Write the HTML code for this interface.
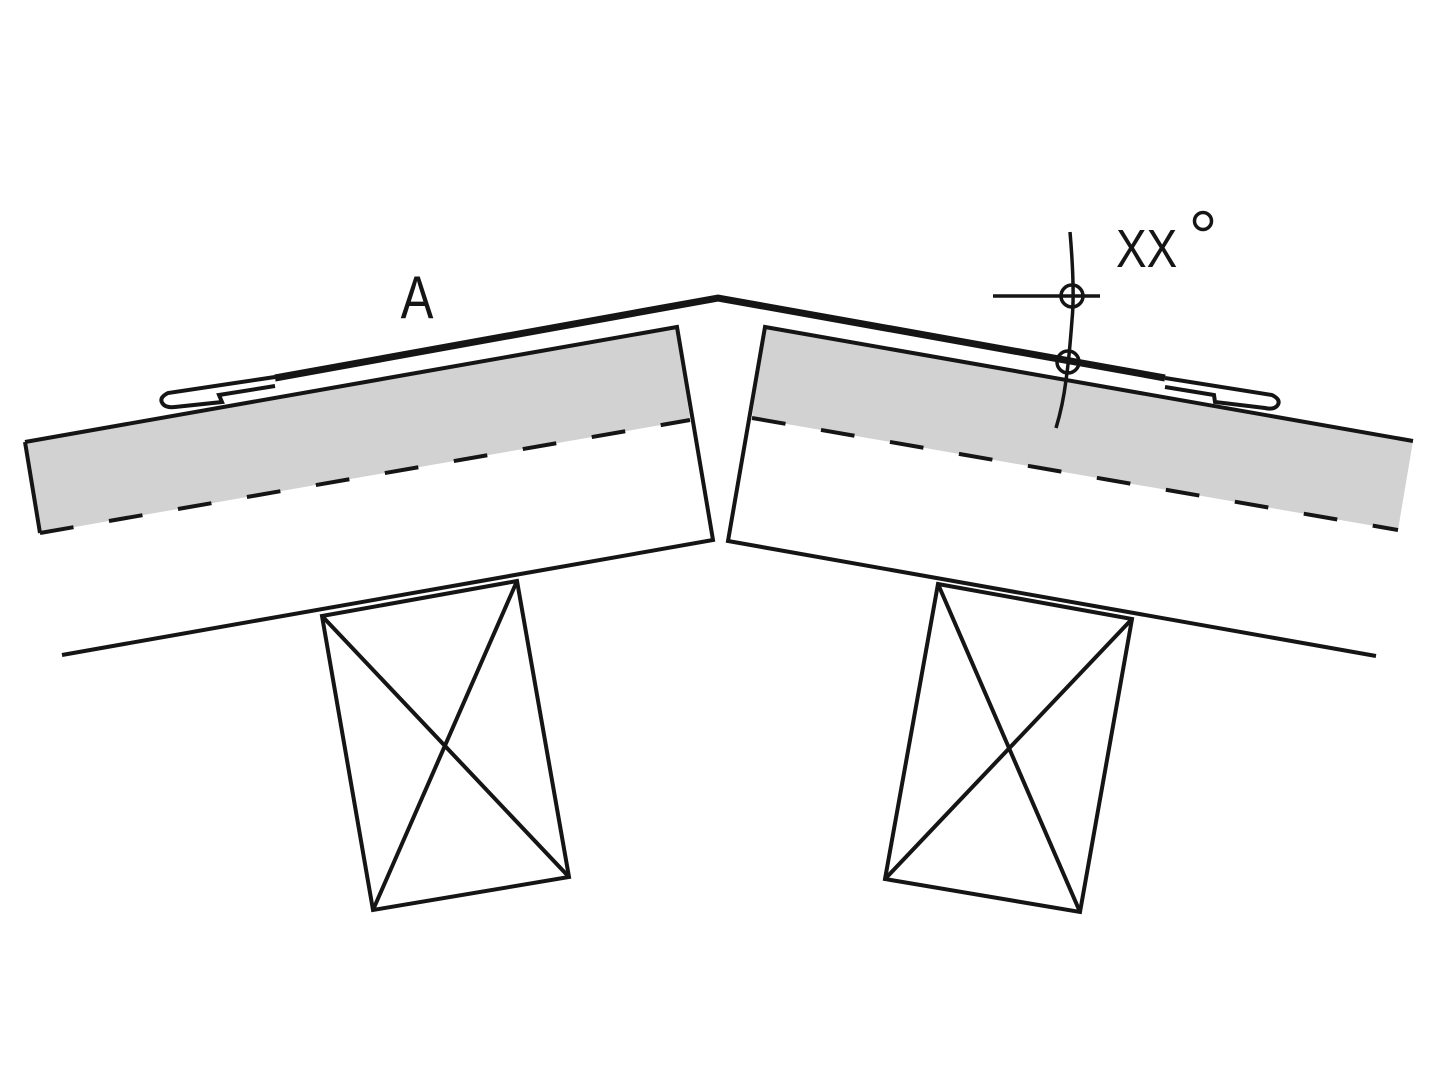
<!DOCTYPE html>
<html><head><meta charset="utf-8"><style>
html,body{margin:0;padding:0;background:#fff;}
svg{display:block;}
</style></head><body>
<svg width="1440" height="1080" viewBox="0 0 1440 1080" xmlns="http://www.w3.org/2000/svg">
<g stroke="#151515" fill="none" stroke-width="4" stroke-linejoin="miter">
<polygon points="25,442 677,327 690,420 40,533" fill="#d2d2d2" stroke="none"/>
<polyline points="25,442 677,327 713,540 62,655"/>
<line x1="25" y1="442" x2="40" y2="533"/>
<line x1="40" y1="533" x2="690" y2="420" stroke-dasharray="34,36"/>
<polygon points="765,327 1413,441 1398,530 752,418" fill="#d2d2d2" stroke="none"/>
<polyline points="1413,441 765,327 728,541 1376,656"/>
<line x1="752" y1="418" x2="1398" y2="530" stroke-dasharray="34,36"/>
<polyline points="275,378 718,298 1165,378" stroke-width="7"/>
<path d="M275,377 L168,393 Q158,398 163,404 Q166,408 175,407 L222,402 L219,395 L275,386" stroke-width="4"/>
<path d="M1165,378 L1272,395 Q1282,400 1277,406 Q1273,410 1265,408 L1215,402 L1214,395 L1165,387" stroke-width="4"/>
<polygon points="322,616 517,581 569,877 373,910"/>
<line x1="322" y1="616" x2="569" y2="877"/>
<line x1="517" y1="581" x2="373" y2="910"/>
<polygon points="938,584 1132,619 1080,912 885,879"/>
<line x1="938" y1="584" x2="1080" y2="912"/>
<line x1="1132" y1="619" x2="885" y2="879"/>
<path d="M1070,232 Q1075,290 1072,320 Q1069,360 1066,380 Q1063,405 1056,428" stroke-width="3.5"/>
<line x1="993" y1="296" x2="1100" y2="296" stroke-width="3.5"/>
<circle cx="1072" cy="296" r="11" stroke-width="3.5"/>
<circle cx="1068" cy="362" r="11" stroke-width="3.5"/>
</g>
<text transform="translate(417,318) scale(0.82,1)" font-family="Liberation Sans, sans-serif" font-size="60" fill="#151515" text-anchor="middle">A</text>
<text transform="translate(1116,267) scale(0.85,1)" font-family="Liberation Sans, sans-serif" font-size="54" fill="#151515">XX</text>
<circle cx="1203" cy="221" r="8.5" fill="none" stroke="#151515" stroke-width="3.5"/>
</svg>
</body></html>
